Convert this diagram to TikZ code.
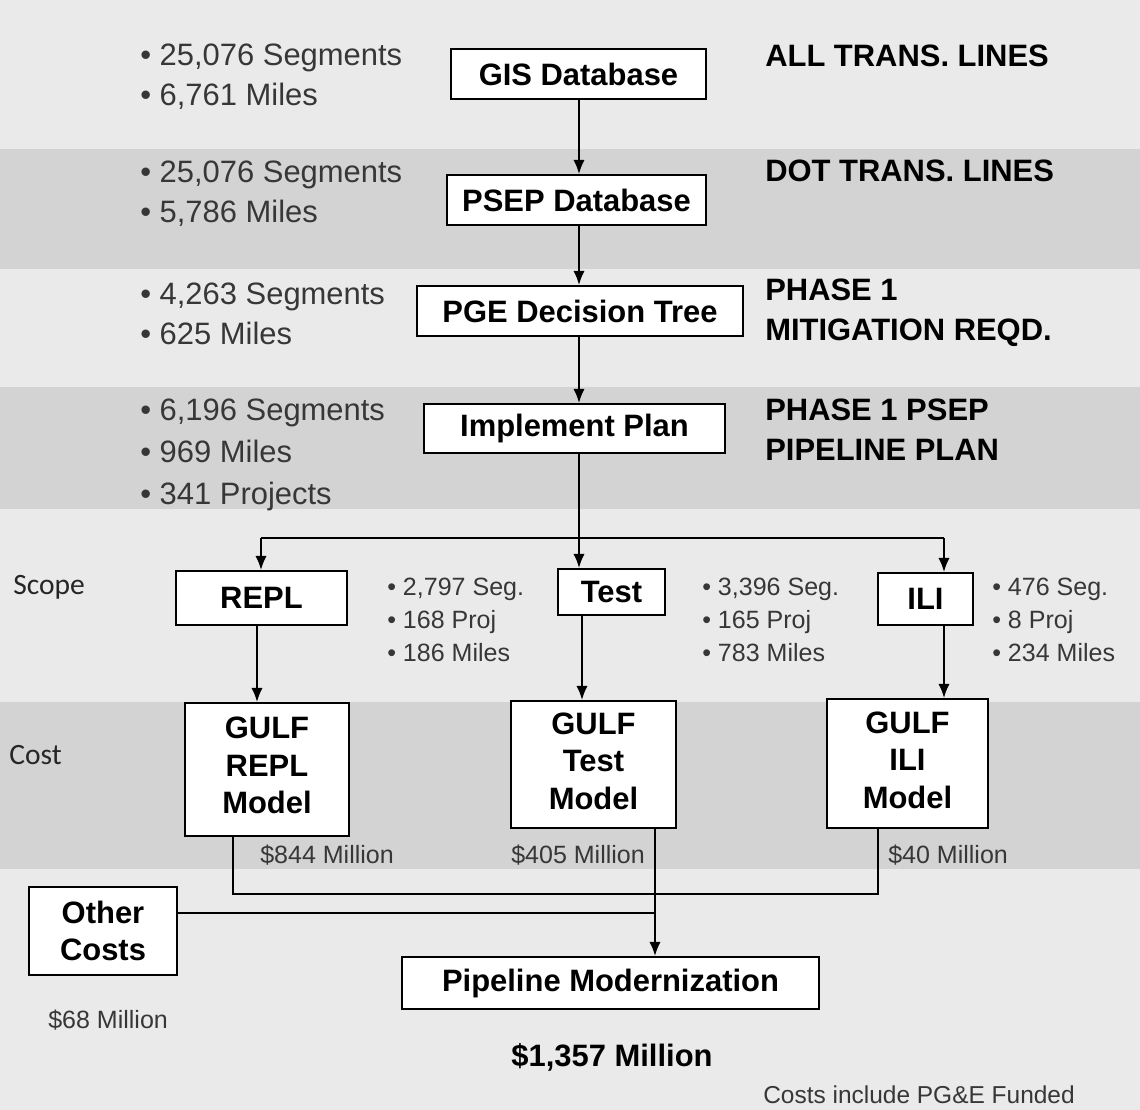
\documentclass[tikz,border=0pt]{standalone}
\usepackage{fontspec}
\setmainfont{Liberation Sans}
\newfontfamily\calibriFont{Carlito}
\usetikzlibrary{arrows.meta}
\definecolor{bgLight}{RGB}{234,234,234}
\definecolor{bgBand}{RGB}{211,211,211}
\definecolor{statGray}{RGB}{55,55,55}
\tikzstyle{pxGrid} = [x=0.025cm, y=-0.025cm]
\tikzstyle{boxStyle} = [draw=black, fill=white, line width=1.4pt, inner sep=0pt, align=center, font=\fontsize{22}{26.5}\selectfont\bfseries]
\tikzstyle{statText} = [anchor=west, inner sep=0pt, align=left, text=statGray, font=\fontsize{22}{28.5}\selectfont]
\tikzstyle{smallStat} = [anchor=west, inner sep=0pt, align=left, text=statGray, font=\fontsize{17.8}{23.5}\selectfont]
\tikzstyle{levelText} = [anchor=west, inner sep=0pt, align=left, font=\fontsize{22}{28.5}\selectfont\bfseries]
\tikzstyle{rowText} = [anchor=west, inner sep=0pt, text=black!85, font=\calibriFont\fontsize{21}{25}\selectfont]
\tikzstyle{flowLine} = [line width=1.3pt]
\tikzstyle{flowArrow} = [flowLine, -{Latex[length=10pt, width=8pt]}]
\newcommand{\px}{0.025cm}
\newcommand{\bandRect}[2]{\fill [bgBand] (0,#1) rectangle (1140,#2);}
\newcommand{\flowBox}[6]{\node [boxStyle, minimum width=#4*\px, minimum height=#5*\px] (#1) at (#2,#3) {#6};}

\begin{document}
\begin{tikzpicture}[pxGrid]
  \path [use as bounding box, fill=bgLight] (0,0) rectangle (1140,1110);
  \bandRect{149}{269}
  \bandRect{387}{509}
  \bandRect{702}{869}

  % boxes
  \flowBox{gisBox}{578.5}{74}{255}{50}{GIS Database}
  \flowBox{psepBox}{576.5}{200}{259}{50}{PSEP Database}
  \flowBox{pgeBox}{580}{311}{326}{50}{PGE Decision Tree}
  \flowBox{planBox}{574.5}{428.5}{301}{49}{Implement Plan}
  \flowBox{replBox}{261.5}{598}{171}{54}{REPL}
  \flowBox{testBox}{611.5}{592}{107}{46}{Test}
  \flowBox{iliBox}{925.5}{599}{95}{52}{ILI}
  \flowBox{gulfReplBox}{267}{769.5}{164}{133}{GULF\\REPL\\Model\rule[-6pt]{0pt}{0pt}}
  \flowBox{gulfTestBox}{593.5}{764.5}{165}{127}{GULF\\Test\\Model\rule[-5pt]{0pt}{0pt}}
  \flowBox{gulfIliBox}{907.5}{763.5}{161}{129}{GULF\\ILI\\Model\rule[-5pt]{0pt}{0pt}}
  \flowBox{otherBox}{103}{931}{148}{88}{Other\\Costs}
  \flowBox{pipelineBox}{610.5}{983}{417}{52}{Pipeline Modernization}

  % connectors
  \coordinate (branchMid) at (579,538);
  \coordinate (branchLeft) at (261,538);
  \coordinate (branchRight) at (944,538);
  \coordinate (replCol) at (257,0);
  \coordinate (testCol) at (582,0);
  \coordinate (sumLeft) at (233,894);
  \coordinate (sumRight) at (878,894);
  \coordinate (otherJoin) at (655,913);
  \draw [flowArrow] (gisBox.south -| branchMid) -- (psepBox.north -| branchMid);
  \draw [flowArrow] (psepBox.south -| branchMid) -- (pgeBox.north -| branchMid);
  \draw [flowArrow] (pgeBox.south -| branchMid) -- (planBox.north -| branchMid);
  \draw [flowLine] (planBox.south -| branchMid) -- (branchMid);
  \draw [flowLine] (branchLeft) -- (branchRight);
  \draw [flowArrow] (branchLeft) -- (replBox.north -| branchLeft);
  \draw [flowArrow] (branchMid) -- (testBox.north -| branchMid);
  \draw [flowArrow] (branchRight) -- (iliBox.north -| branchRight);
  \draw [flowArrow] (replBox.south -| replCol) -- (gulfReplBox.north -| replCol);
  \draw [flowArrow] (testBox.south -| testCol) -- (gulfTestBox.north -| testCol);
  \draw [flowArrow] (iliBox.south -| branchRight) -- (gulfIliBox.north -| branchRight);
  \draw [flowLine] (gulfReplBox.south -| sumLeft) -- (sumLeft) -- (sumRight) -- (gulfIliBox.south -| sumRight);
  \draw [flowLine] (otherBox.east |- otherJoin) -- (otherJoin);
  \draw [flowArrow] (gulfTestBox.south -| otherJoin) -- (pipelineBox.north -| otherJoin);

  % left counts
  \node [statText] (gisStats) at (140,77) {• 25,076 Segments\\• 6,761 Miles};
  \node [statText] (psepStats) at (140,194) {• 25,076 Segments\\• 5,786 Miles};
  \node [statText] (pgeStats) at (140,314) {• 4,263 Segments\\• 625 Miles};
  \node [statText, font=\fontsize{22}{29.8}\selectfont] (planStats) at (140,455) {• 6,196 Segments\\• 969 Miles\\• 341 Projects};

  % right labels
  \node [levelText] (allLines) at (765,56) {ALL TRANS. LINES};
  \node [levelText] (dotLines) at (765,171) {DOT TRANS. LINES};
  \node [levelText] (phaseMit) at (765,313) {PHASE 1\\MITIGATION REQD.};
  \node [levelText] (phasePlan) at (765,430) {PHASE 1 PSEP\\PIPELINE PLAN};

  \node [rowText] (scopeLabel) at (13,587) {Scope};
  \node [rowText] (costLabel) at (9,755) {Cost};

  \node [smallStat] (replStats) at (387,620) {• 2,797 Seg.\\• 168 Proj\\• 186 Miles};
  \node [smallStat] (testStats) at (702,620) {• 3,396 Seg.\\• 165 Proj\\• 783 Miles};
  \node [smallStat] (iliStats) at (992,620) {• 476 Seg.\\• 8 Proj\\• 234 Miles};

  \node [smallStat] (replCost) at (260,855) {\$844 Million};
  \node [smallStat] (testCost) at (511,855) {\$405 Million};
  \node [smallStat] (iliCost) at (888,855) {\$40 Million};
  \node [smallStat] (otherCost) at (48,1020) {\$68 Million};
  \node [inner sep=0pt, font=\fontsize{22}{26}\selectfont\bfseries] (totalCost) at (612,1057) {\$1,357 Million};
  \node [smallStat, font=\fontsize{17.4}{21}\selectfont] (fundNote) at (763,1095) {Costs include PG\&E Funded};
\end{tikzpicture}
\end{document}
